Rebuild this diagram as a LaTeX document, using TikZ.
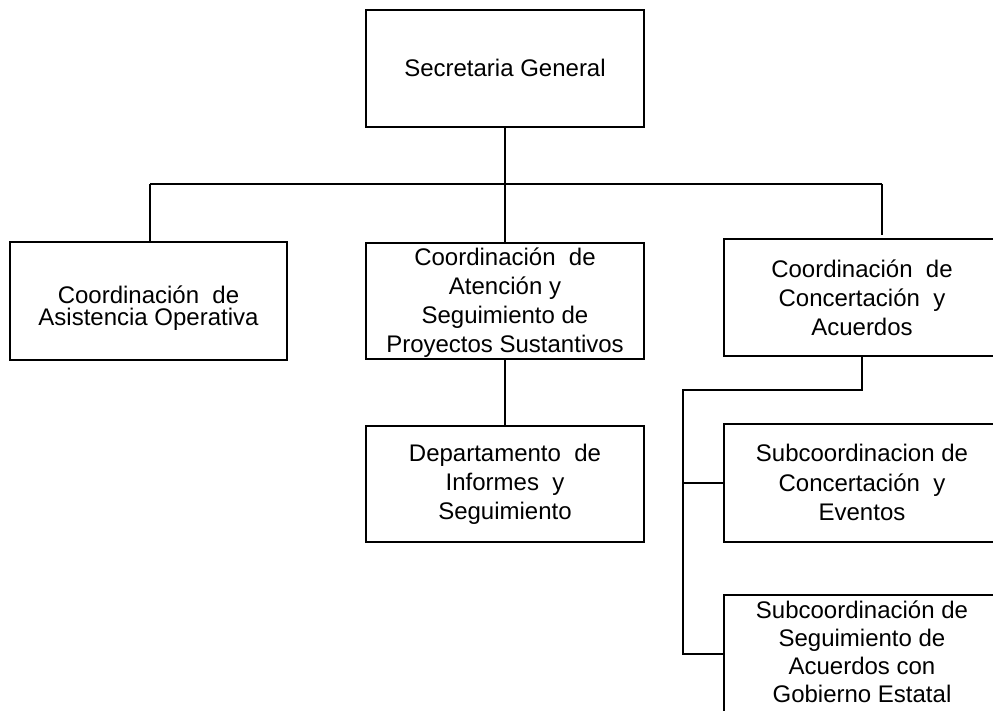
\documentclass[tikz,border=0pt]{standalone}
\usepackage{fontspec}
\setmainfont{Liberation Sans}
\begin{document}
\begin{tikzpicture}[x=0.5pt,y=-0.5pt,
  box/.style={draw, line width=1.1pt, rectangle, inner sep=0pt},
  lbl/.style={align=center, inner sep=0pt, font=\fontsize{12pt}{14.6pt}\selectfont},
  lastlbl/.style={align=center, inner sep=0pt, font=\fontsize{12pt}{14pt}\selectfont},
  tightlbl/.style={align=center, inner sep=0pt, font=\fontsize{12pt}{11pt}\selectfont},
  conn/.style={line width=1.1pt}]
\clip (0,0) rectangle (993,711);
\fill[white] (0,0) rectangle (993,711);
% boxes
\node[box, minimum width=139pt, minimum height=58.5pt] (sg) at (505,68.5) {};
\node[box, minimum width=138.5pt, minimum height=59pt] (cao) at (148.5,301) {};
\node[box, minimum width=139pt, minimum height=58pt] (cas) at (505,301) {};
\node[box, minimum width=138pt, minimum height=58.5pt] (cca) at (862,297.5) {};
\node[box, minimum width=139pt, minimum height=58pt] (dis) at (505,484) {};
\node[box, minimum width=138pt, minimum height=59pt] (sce) at (862,483) {};
\node[box, minimum width=138pt, minimum height=60pt] (ssa) at (862,655) {};
% labels
\node[lbl] (tsg) at (505,68) {Secretaria General};
\node[tightlbl] (tcao) at (148.5,308) {Coordinación\ \ de\\Asistencia Operativa};
\node[lbl] (tcas) at (505,302.5) {Coordinación\ \ de\\Atención y\\Seguimiento de\\Proyectos Sustantivos};
\node[lbl] (tcca) at (862,297.5) {Coordinación\ \ de\\Concertación\ \ y\\Acuerdos};
\node[lbl] (tdis) at (505,484.5) {Departamento\ \ de\\Informes\ \ y\\Seguimiento};
\node[lbl] (tsce) at (862,482.5) {Subcoordinacion de\\Concertación\ \ y\\Eventos};
\node[lastlbl] (tssa) at (862,652) {Subcoordinación de\\Seguimiento de\\Acuerdos con\\Gobierno Estatal};
% connectors
\coordinate (j) at (505,184);
\coordinate (jl) at (150,184);
\coordinate (jr) at (882,184);
\coordinate (jre) at (882,235);
\coordinate (k1) at (862,390);
\coordinate (k2) at (683,390);
\coordinate (k3) at (683,483);
\coordinate (k4) at (683,654);
\draw[conn] (sg.south) -- (j);
\draw[conn] (jl) -- (jr);
\draw[conn] (jl) -- (cao.north -| jl);
\draw[conn] (j) -- (cas.north);
\draw[conn] (jr) -- (jre);
\draw[conn] (cas.south) -- (dis.north);
\draw[conn] (cca.south) -- (k1) -- (k2) -- (k4) -- (k4 -| ssa.west);
\draw[conn] (k3) -- (k3 -| sce.west);
\end{tikzpicture}
\end{document}
